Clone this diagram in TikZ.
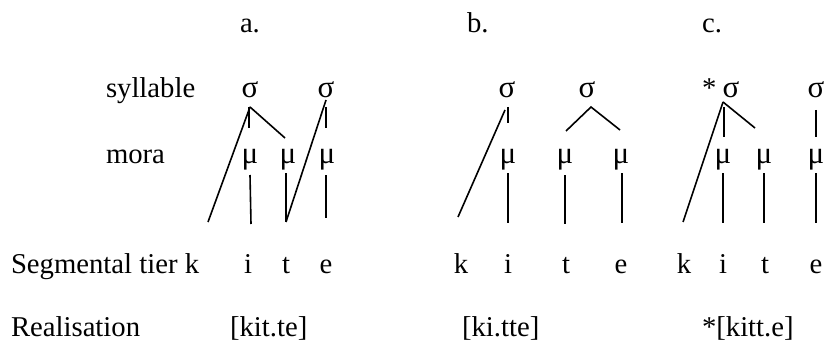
\documentclass[tikz,border=0pt]{standalone}
\usepackage{fontspec}
\setmainfont{Liberation Serif}
\begin{document}
\begin{tikzpicture}[x=1pt,y=-1pt,
  every node/.style={inner sep=0pt, outer sep=0pt, font=\fontsize{28.7}{34}\selectfont},
  lbl/.style={anchor=base west},
  sym/.style={anchor=base},
  gr/.style={anchor=base, font=\fontsize{31}{36}\selectfont},
  link/.style={line width=1.6pt}]
\useasboundingbox (0,0) rectangle (824,342);
% headings
\node[lbl] (ha) at (240,33) {a.};
\node[lbl] (hb) at (467,33) {b.};
\node[lbl] (hc) at (702,33) {c.};
% row labels
\node[lbl] (syl) at (106,98) {syllable};
\node[lbl] (mor) at (106,163) {mora};
\node[lbl] (seg) at (11,273) {Segmental tier k};
\node[lbl] (real) at (11,336) {Realisation};
% a.
\node[gr] (as1) at (250,98) {σ};
\node[gr] (as2) at (326,98) {σ};
\node[gr] (am1) at (250,163) {μ};
\node[gr] (am2) at (288,163) {μ};
\node[gr] (am3) at (327,163) {μ};
\node[sym] (ai) at (248,273) {i};
\node[sym] (at) at (286,273) {t};
\node[sym] (ae) at (326,273) {e};
\node[lbl] (ar) at (230,336) {[kit.te]};
% b.
\node[gr] (bs1) at (507,98) {σ};
\node[gr] (bs2) at (587,98) {σ};
\node[gr] (bm1) at (508,163) {μ};
\node[gr] (bm2) at (565,163) {μ};
\node[gr] (bm3) at (621,163) {μ};
\node[sym] (bk) at (461,273) {k};
\node[sym] (bi) at (508,273) {i};
\node[sym] (bt) at (566,273) {t};
\node[sym] (be) at (621,273) {e};
\node[lbl] (br) at (462,336) {[ki.tte]};
% c.
\node[lbl] (cstar) at (702,98) {*};
\node[gr] (cs1) at (731,98) {σ};
\node[gr] (cs2) at (816,98) {σ};
\node[gr] (cm1) at (723,163) {μ};
\node[gr] (cm2) at (764,163) {μ};
\node[gr] (cm3) at (816,163) {μ};
\node[sym] (ck) at (684,273) {k};
\node[sym] (ci) at (723,273) {i};
\node[sym] (ct) at (765,273) {t};
\node[sym] (ce) at (816,273) {e};
\node[lbl] (cr) at (702,336) {*[kitt.e]};
% link end points, a.
\coordinate (a1) at (250,107); \coordinate (a1k) at (208,222);
\coordinate (a1v) at (249,107); \coordinate (a1m) at (249,128);
\coordinate (a1d) at (285,138);
\coordinate (am1b) at (250,175); \coordinate (aib) at (251,224);
\coordinate (am2b) at (286,173); \coordinate (atb) at (286,222);
\coordinate (a2) at (326,100);
\coordinate (a2v) at (326,107); \coordinate (a2m) at (326,128);
\coordinate (am3b) at (326,175); \coordinate (aeb) at (326,218);
\draw[link] (a1) -- (a1k);
\draw[link] (a1v) -- (a1m);
\draw[link] (a1) -- (a1d);
\draw[link] (am1b) -- (aib);
\draw[link] (am2b) -- (atb);
\draw[link] (a2) -- (atb);
\draw[link] (a2v) -- (a2m);
\draw[link] (am3b) -- (aeb);
% b.
\coordinate (b1) at (505,110); \coordinate (b1k) at (458,217);
\coordinate (b1v) at (508,107); \coordinate (b1m) at (508,123);
\coordinate (bm1b) at (508,173); \coordinate (bib) at (508,223);
\coordinate (b2) at (591,107); \coordinate (b2l) at (566,131); \coordinate (b2r) at (620,130);
\coordinate (bm2b) at (565,175); \coordinate (btb) at (565,224);
\coordinate (bm3b) at (622,173); \coordinate (beb) at (622,223);
\draw[link] (b1) -- (b1k);
\draw[link] (b1v) -- (b1m);
\draw[link] (bm1b) -- (bib);
\draw[link] (b2l) -- (b2) -- (b2r);
\draw[link] (bm2b) -- (btb);
\draw[link] (bm3b) -- (beb);
% c.
\coordinate (c1) at (723,102); \coordinate (c1k) at (683,222);
\coordinate (c1v) at (724,107); \coordinate (c1m) at (724,137);
\coordinate (c1d) at (755,128);
\coordinate (cm1b) at (723,173); \coordinate (cib) at (723,223);
\coordinate (cm2b) at (764,173); \coordinate (ctb) at (764,223);
\coordinate (c2v) at (816,110); \coordinate (c2m) at (816,137);
\coordinate (cm3b) at (816,173); \coordinate (ceb) at (816,223);
\draw[link] (c1) -- (c1k);
\draw[link] (c1v) -- (c1m);
\draw[link] (c1) -- (c1d);
\draw[link] (cm1b) -- (cib);
\draw[link] (cm2b) -- (ctb);
\draw[link] (c2v) -- (c2m);
\draw[link] (cm3b) -- (ceb);
\end{tikzpicture}
\end{document}
